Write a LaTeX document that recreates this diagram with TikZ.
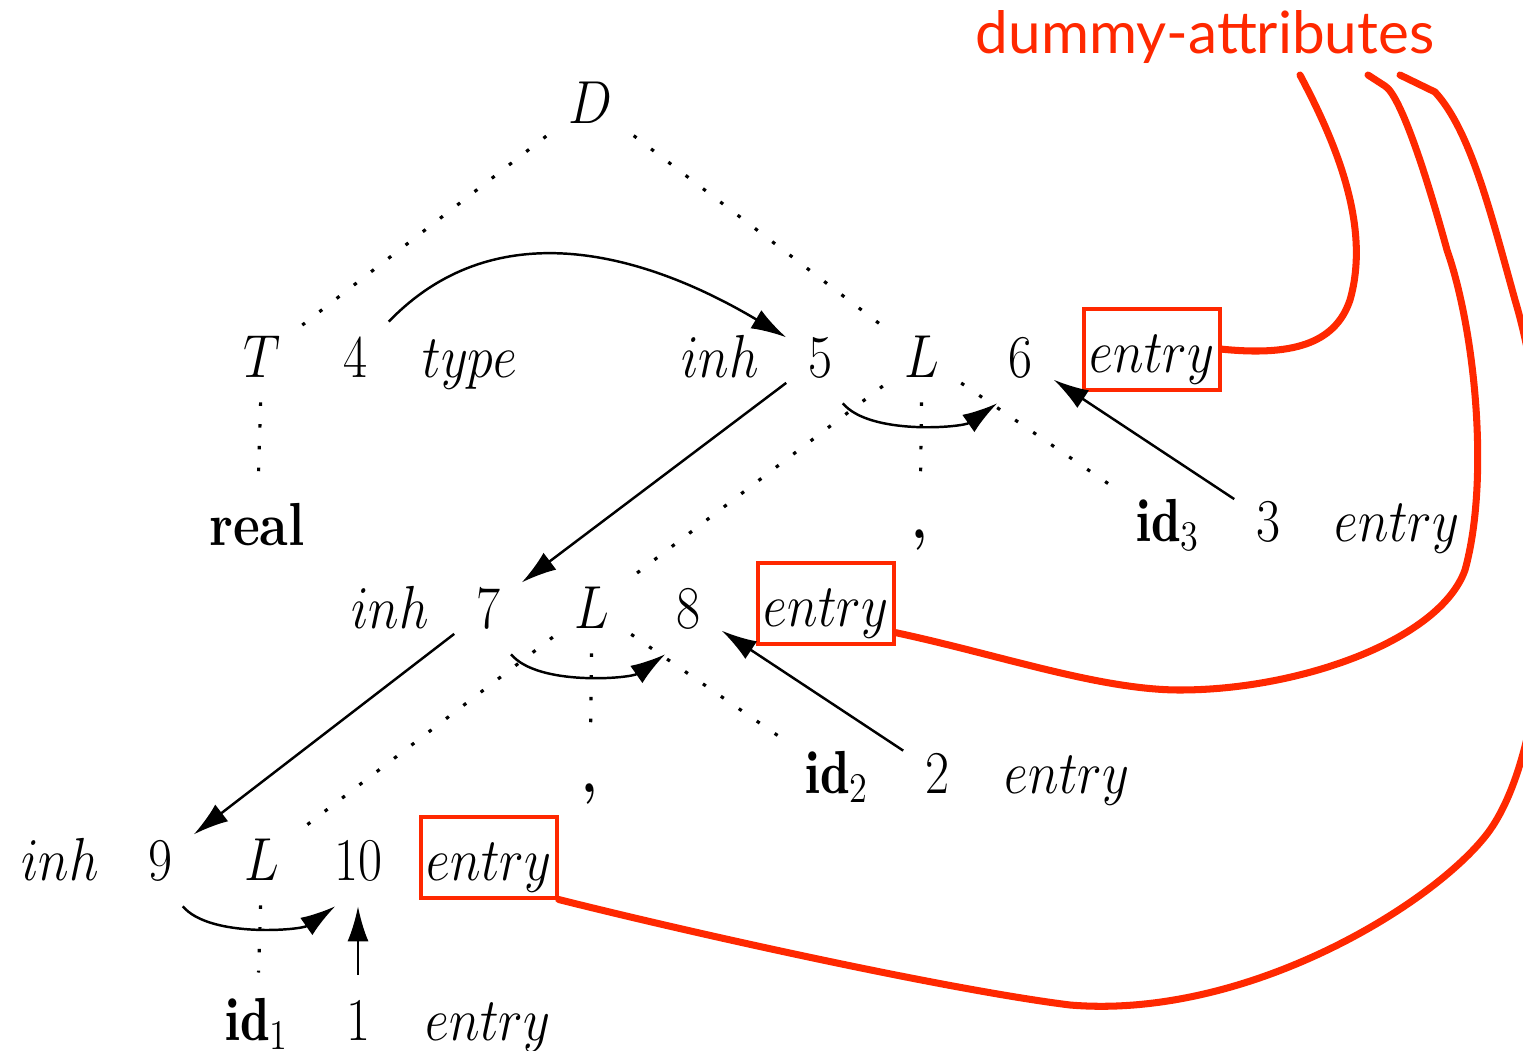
\documentclass[tikz,border=0pt]{standalone}
\usepackage{fontspec}
\usepackage{amsmath}
\newfontfamily\notefont{Lato}
\usetikzlibrary{arrows.meta}
\definecolor{notered}{RGB}{255,40,0}

\begin{document}
\begin{tikzpicture}[x=0.01cm, y=-0.01cm, every node/.style={font=\LARGE, anchor=base, xscale=0.86}]
  \tikzset{
    sym/.style={inner sep=7pt},
    punct/.style={inner sep=7pt, text height=11pt, font=\LARGE\bfseries},
    tree/.style={line width=0.9pt, dash pattern=on 1pt off 5.2pt},
    dep/.style={line width=0.7pt, -{Latex[length=10pt,width=6pt]}},
    dummy/.style={draw=notered, line width=1.1pt, inner sep=0pt, minimum width=45pt,
                  text height=18pt, text depth=5pt},
    link/.style={draw=notered, line width=2pt, line cap=round}
  }
  \useasboundingbox (0,0) rectangle (1523,1051);

  % Root
  \node[sym] (d) at (590,123) {$D$};

  % First level
  \node[sym] (t)    at (262,377)  {$T$};
  \node[sym] (n4)   at (355,377)  {4};
  \node      (type) at (470,377)  {$type$};
  \node      (inh5) at (720,377)  {$inh$};
  \node[sym] (n5)   at (820,377)  {5};
  \node[sym] (l1)   at (922,377)  {$L$};
  \node[sym] (n6)   at (1020,377) {6};
  \node[dummy] (e6) at (1152,372) {$entry$};

  % Second level
  \node[sym] (real)   at (257,545)  {\textbf{real}};
  \node[punct] (comma1) at (920,538) {,};
  \node[sym] (id3)    at (1168,541) {$\mathbf{id}_3$};
  \node[sym] (n3)     at (1268,541) {3};
  \node      (entry3) at (1397,541) {$entry$};
  \node      (inh7)   at (390,628)  {$inh$};
  \node[sym] (n7)     at (488,628)  {7};
  \node[sym] (l2)     at (592,628)  {$L$};
  \node[sym] (n8)     at (688,628)  {8};
  \node[dummy] (e8)   at (826,626)  {$entry$};

  % Third level
  \node[punct] (comma2) at (590,792) {,};
  \node[sym] (id2)    at (837,793)  {$\mathbf{id}_2$};
  \node[sym] (n2)     at (937,793)  {2};
  \node      (entry2) at (1067,793) {$entry$};
  \node      (inh9)   at (60,880)   {$inh$};
  \node[sym] (n9)     at (160,880)  {9};
  \node[sym] (l3)     at (262,880)  {$L$};
  \node[sym] (n10)    at (358,880)  {10};
  \node[dummy] (e10)  at (489,880)  {$entry$};

  % Leaves
  \node[sym] (id1)    at (257,1040) {$\mathbf{id}_1$};
  \node[sym] (n1)     at (358,1040) {1};
  \node      (entry1) at (488,1040) {$entry$};

  % parse tree
  \draw[tree] (d) -- (t);
  \draw[tree] (d) -- (l1);
  \draw[tree] (t) -- (real);
  \draw[tree] (l1) -- (l2);
  \draw[tree] (l1) -- (comma1);
  \draw[tree] (l1) -- (id3);
  \draw[tree] (l2) -- (l3);
  \draw[tree] (l2) -- (comma2);
  \draw[tree] (l2) -- (id2);
  \draw[tree] (l3) -- (id1);

  % dependencies
  \draw[dep] (n4) to[out=45, in=150] (n5);
  \draw[dep] (n5) -- (n7);
  \draw[dep] (n5.-60) to[out=-50, in=-145, looseness=0.7] (n6.-120);
  \draw[dep] (n3) -- (n6);
  \draw[dep] (n7) -- (n9);
  \draw[dep] (n7.-60) to[out=-50, in=-145, looseness=0.7] (n8.-120);
  \draw[dep] (n2) -- (n8);
  \draw[dep] (n9.-60) to[out=-50, in=-145, looseness=0.7] (n10.-120);
  \draw[dep] (n1) -- (n10);

  % note
  \node[font=\notefont\fontsize{16.6}{20}\selectfont, text=notered, anchor=center, xscale=1.163] (note) at (1205,37) {dummy-attributes};
  \coordinate (a1) at (1300,75);
  \coordinate (a2) at (1368,75);
  \coordinate (a3) at (1400,75);
  \draw[link] (e6.east) .. controls (1290,356) and (1335,345) .. (1350,300)
    .. controls (1370,230) and (1340,150) .. (a1);
  \draw[link] (e8.-20) .. controls (1000,655) and (1100,690) .. (1180,690)
    .. controls (1300,690) and (1440,640) .. (1465,570)
    .. controls (1490,480) and (1475,330) .. (1447,250)
    .. controls (1425,170) and (1400,95) .. (1385,86) -- (a2);
  \draw[link] (e10.south east) .. controls (700,935) and (950,990) .. (1070,1005)
    .. controls (1250,1020) and (1440,900) .. (1490,830)
    .. controls (1560,730) and (1560,450) .. (1515,300)
    .. controls (1490,210) and (1470,130) .. (1435,92) -- (a3);
\end{tikzpicture}
\end{document}
